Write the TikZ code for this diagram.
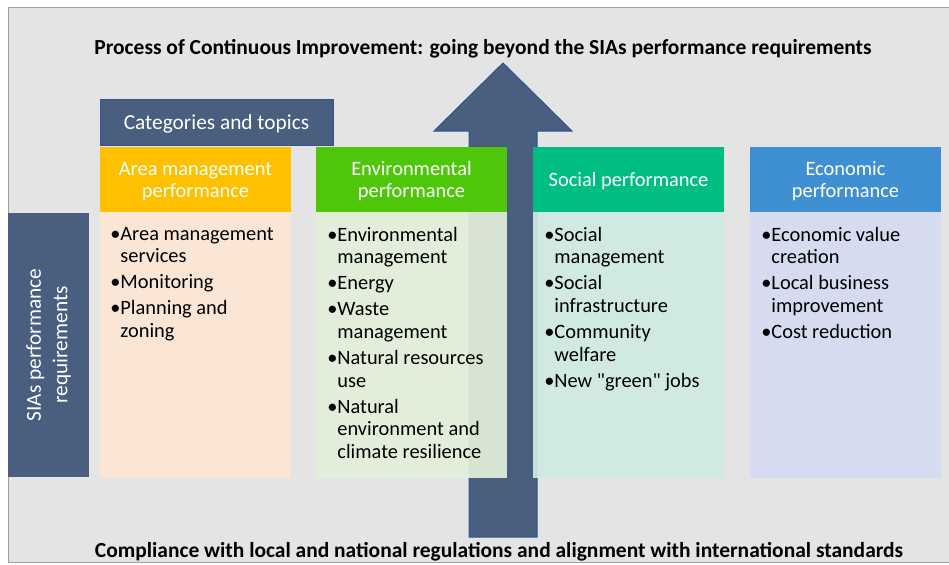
\documentclass[tikz,border=0pt]{standalone}
\usepackage{fontspec}
\setmainfont{Carlito}
\usetikzlibrary{positioning}

\definecolor{slate}{HTML}{4A5E7F}
\definecolor{slateline}{HTML}{2F5597}
\definecolor{panel}{HTML}{E4E4E4}
\definecolor{frame}{HTML}{A0A0A0}
\definecolor{areahead}{HTML}{FFC000}
\definecolor{areabody}{HTML}{FDE7D5}
\definecolor{envhead}{HTML}{4EC60A}
\definecolor{envbody}{HTML}{E2EFD9}
\definecolor{sochead}{HTML}{00BD83}
\definecolor{socbody}{HTML}{CFEBE3}
\definecolor{ecohead}{HTML}{3F8FD3}
\definecolor{ecobody}{HTML}{D4DCF0}

\newcommand{\cont}{\phantom{\textbullet}}

\begin{document}
\begin{tikzpicture}[x=0.75pt,y=-0.75pt,
    head/.style={rectangle,anchor=north west,inner sep=0pt,outer sep=0pt,
      minimum width=143.25pt,minimum height=48.75pt,text=white,align=center,
      text depth=-0.8pt,font=\fontsize{15.3}{16.5}\selectfont},
    body/.style={rectangle,anchor=north west,inner sep=0pt,outer sep=0pt,
      minimum width=143.25pt,minimum height=199.5pt,fill opacity=.93},
    list/.style={anchor=north west,inner sep=0pt,align=left,
      font=\fontsize{15.3}{16.9}\selectfont},
    banner/.style={font=\bfseries\fontsize{16.1}{19}\selectfont}]

\useasboundingbox (0,0) rectangle (949,564);
\draw[frame,fill=panel] (8.5,7.5) rectangle (990,562.5);

\node[banner] (top) at (483,49) {Process of Continuous Improvement: going beyond the SIAs performance requirements};
\node[banner] (bottom) at (499,552) {Compliance with local and national regulations and alignment with international standards};

% Improvement arrow, behind the columns
\draw[slateline,fill=slate,line width=0.75pt] (469,537) -- (469,131) -- (434,131) -- (503,63)
  -- (572,131) -- (537,131) -- (537,537) -- cycle;

% Column bodies
\node[body,fill=areabody] (areabody) at (100,212) {};
\node[body,fill=envbody] (envbody) at (316,212) {};
\node[body,fill=socbody] (socbody) at (533,212) {};
\node[body,fill=ecobody] (ecobody) at (750,212) {};

% Column headers
\node[head,fill=areahead] (areahead) at (100,147) {Area management\\performance};
\node[head,fill=envhead] (envhead) at (316,147) {Environmental\\performance};
\node[head,fill=sochead] (sochead) at (533,147) {Social performance};
\node[head,fill=ecohead] (ecohead) at (750,147) {Economic\\performance};

\node[draw=slateline,fill=slate,text=white,inner sep=0pt,text depth=-0.5pt,
  minimum width=174.75pt,minimum height=34.5pt,font=\fontsize{16}{19}\selectfont]
  (categories) at (216.5,122) {Categories and topics};

\node[fill=slate,text=white,inner sep=0pt,rotate=90,align=center,
  minimum width=198pt,minimum height=60.75pt,font=\fontsize{16}{20}\selectfont]
  (sias) at (48.5,345) {SIAs performance\\requirements};

% Topics of each category
\node[list] (arealist) at (110,227) {\textbullet Area management\\\cont services\\[2.6pt]
  \textbullet Monitoring\\[2.6pt]
  \textbullet Planning and\\\cont zoning};
\node[list] (envlist) at (327,227) {\textbullet Environmental\\\cont management\\[2.6pt]
  \textbullet Energy\\[2.6pt]
  \textbullet Waste\\\cont management\\[2.6pt]
  \textbullet Natural resources\\\cont use\\[2.6pt]
  \textbullet Natural\\\cont environment and\\\cont climate resilience};
\node[list] (soclist) at (544,227) {\textbullet Social\\\cont management\\[2.6pt]
  \textbullet Social\\\cont infrastructure\\[2.6pt]
  \textbullet Community\\\cont welfare\\[2.6pt]
  \textbullet New \textquotedbl green\textquotedbl{} jobs};
\node[list] (ecolist) at (761,227) {\textbullet Economic value\\\cont creation\\[2.6pt]
  \textbullet Local business\\\cont improvement\\[2.6pt]
  \textbullet Cost reduction};

\end{tikzpicture}
\end{document}
